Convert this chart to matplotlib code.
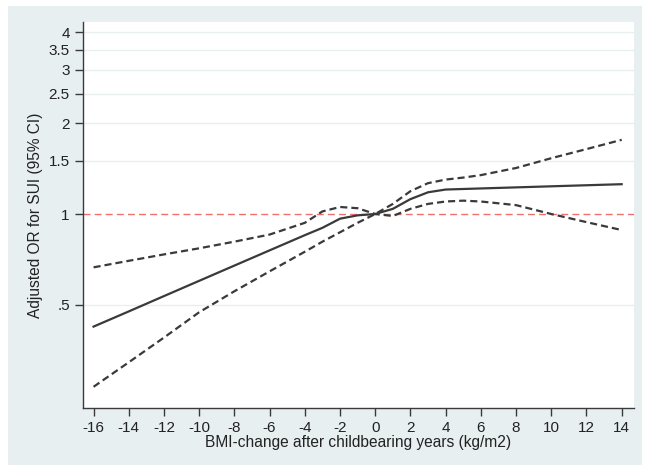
import matplotlib
matplotlib.use("Agg")
import matplotlib.pyplot as plt
from matplotlib.patches import Rectangle

plt.rcParams['font.family'] = ['Liberation Sans', 'DejaVu Sans']

# BMI change (kg/m2)
bmi = [-16, -14, -12, -10, -8, -6, -4, -3, -2, -1, 0, 1, 2, 3, 4, 5, 6, 8, 10, 12, 14]
# adjusted odds ratio
odds = [0.424, 0.476, 0.535, 0.601, 0.675, 0.758, 0.851, 0.90, 0.965, 0.99, 1.0,
        1.04, 1.12, 1.18, 1.205, 1.21, 1.215, 1.225, 1.235, 1.245, 1.255]
# confidence limits (the two bounds cross at the reference value 0)
ci_a = [0.666, 0.700, 0.735, 0.770, 0.810, 0.855, 0.935, 1.02, 1.055, 1.045, 1.0,
        0.985, 1.04, 1.08, 1.10, 1.107, 1.10, 1.07, 1.0, 0.94, 0.885]
ci_b = [0.268, 0.323, 0.390, 0.473, 0.555, 0.646, 0.750, 0.81, 0.87, 0.935, 1.0,
        1.08, 1.19, 1.265, 1.30, 1.32, 1.345, 1.42, 1.53, 1.64, 1.76]

xticks = list(range(-16, 15, 2))
yticks = [0.5, 1, 1.5, 2, 2.5, 3, 3.5, 4]
ylabels = ['.5', '1', '1.5', '2', '2.5', '3', '3.5', '4']

bg = '#e8eff1'
ink = '#3a3a3a'

fig = plt.figure(figsize=(6.51, 4.67), dpi=100, facecolor='white')
fig.patches.append(Rectangle((8 / 651, 2 / 467), 634 / 651, 459 / 467,
                             transform=fig.transFigure, facecolor=bg,
                             edgecolor='none', zorder=-10))

ax = fig.add_axes([83 / 651, 1 - 408 / 467, 551 / 651, 386 / 467])
ax.set_facecolor('white')
ax.set_yscale('log')

for t in yticks:
    if t != 1:
        ax.axhline(t, color=bg, lw=1.0, zorder=1)
ax.axhline(1, color='#f07070', lw=1.0, ls=(0, (5, 3)), zorder=2)

ax.plot(bmi, odds, color=ink, lw=1.6, zorder=3)
ax.plot(bmi, ci_a, color=ink, lw=1.6, ls=(0, (3.2, 1.8)), zorder=3)
ax.plot(bmi, ci_b, color=ink, lw=1.6, ls=(0, (3.2, 1.8)), zorder=3)

ax.set_xlim(-16.6, 14.7)
ax.set_ylim(0.228, 4.32)
ax.set_xticks(xticks)
ax.set_xticklabels([str(t) for t in xticks])
ax.set_yticks(yticks)
ax.set_yticklabels(ylabels)
ax.yaxis.set_minor_locator(matplotlib.ticker.NullLocator())

for side in ['top', 'right']:
    ax.spines[side].set_visible(False)
for side in ['left', 'bottom']:
    ax.spines[side].set_color(ink)
    ax.spines[side].set_linewidth(1.0)

ax.tick_params(axis='both', direction='out', length=6, width=1.0, color=ink,
               labelsize=11, labelcolor='#222222', pad=3.5)

ax.set_xlabel('BMI-change after childbearing years (kg/m2)', fontsize=11.2,
              color='#222222', labelpad=0)
ax.set_ylabel('Adjusted OR for SUI (95% CI)', fontsize=11.2, color='#222222',
              labelpad=4)

fig.savefig('out.png', dpi=100, facecolor='white')
